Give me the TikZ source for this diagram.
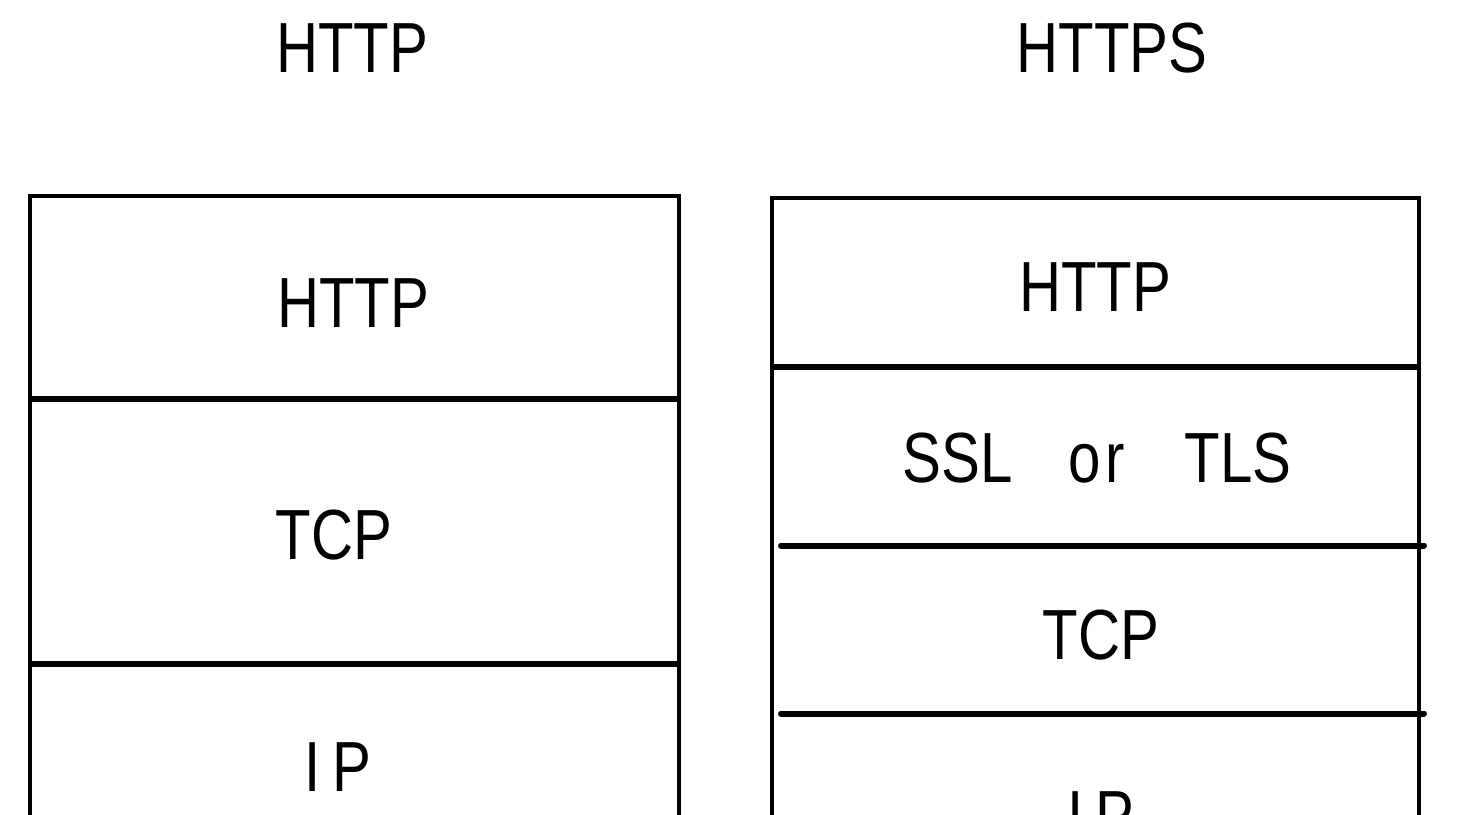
\documentclass[tikz,border=0pt]{standalone}
\usepackage{fontspec}
\newfontfamily\labfont[FakeStretch=0.82]{Liberation Sans}
\begin{document}
\begin{tikzpicture}[x=1pt,y=-1pt,
  border/.style={line width=4pt},
  divider/.style={line width=6pt},
  lab/.style={inner sep=0pt,font=\labfont\fontsize{71}{80}\selectfont}]
\useasboundingbox (0,0) rectangle (1466,814);
% titles
\node[lab] (t1) at (352,48) {HTTP};
\node[lab] (t2) at (1112,48) {HTTPS};
% left stack
\draw[border] (29.5,830) -- (29.5,195.5) -- (679,195.5) -- (679,830);
\draw[divider] (29.5,399) -- (679,399);
\draw[divider] (29.5,663.5) -- (679,663.5);
\node[lab] (lhttp) at (353,303) {HTTP};
\node[lab] (ltcp) at (334,535) {TCP};
\node[lab] (lip) at (338,767) {I\hspace{12pt}P};
% right stack
\draw[border] (771.5,830) -- (771.5,198) -- (1418.5,198) -- (1418.5,830);
\draw[divider] (771.5,366.5) -- (1418.5,366.5);
\draw[divider,line cap=round] (781,545.5) -- (1424,545.5);
\draw[divider,line cap=round] (781,713.5) -- (1424,713.5);
\node[lab] (rhttp) at (1095,287) {HTTP};
\node[lab] (rssl) at (1097,458) {SSL\hspace{56pt}o\hspace{4pt}r\hspace{60pt}TLS};
\node[lab] (rtcp) at (1101,635) {TCP};
\node[lab] (rip) at (1101,816) {I\hspace{12pt}P};
\end{tikzpicture}
\end{document}
